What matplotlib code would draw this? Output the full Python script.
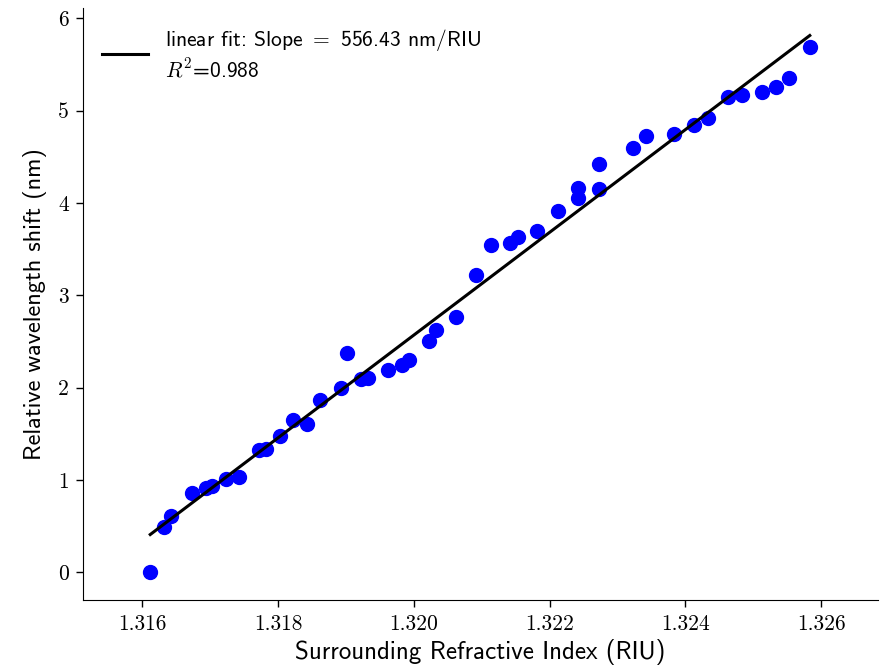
import numpy as np
import matplotlib
matplotlib.use('Agg')
import matplotlib.pyplot as plt
from matplotlib.ticker import FixedLocator, FormatStrFormatter

# Datos medidos: índice de refracción del medio y corrimiento de la longitud de onda
indice = [1.31612, 1.31632, 1.31643, 1.31673, 1.31694, 1.31703, 1.31723, 1.31742,
          1.31772, 1.31782, 1.31803, 1.31822, 1.31843, 1.31862, 1.31893, 1.31902,
          1.31923, 1.31933, 1.31962, 1.31982, 1.31993, 1.32022, 1.32033, 1.32062,
          1.32092, 1.32113, 1.32142, 1.32153, 1.32182, 1.32212, 1.32242, 1.32242,
          1.32273, 1.32273, 1.32323, 1.32342, 1.32383, 1.32413, 1.32433, 1.32463,
          1.32483, 1.32513, 1.32533, 1.32552, 1.32583]
corrimiento = [0.00, 0.49, 0.61, 0.86, 0.91, 0.94, 1.01, 1.03,
               1.32, 1.34, 1.48, 1.65, 1.61, 1.87, 2.00, 2.37,
               2.09, 2.11, 2.19, 2.24, 2.30, 2.50, 2.62, 2.77,
               3.22, 3.54, 3.57, 3.63, 3.70, 3.91, 4.05, 4.16,
               4.15, 4.42, 4.59, 4.73, 4.75, 4.84, 4.92, 5.15,
               5.17, 5.20, 5.25, 5.35, 5.69]

# Ajuste lineal
pendiente = 556.43
r2 = 0.988
y_inicio = 0.41  # valor del ajuste en el primer índice

x_ticks = [1.316, 1.318, 1.320, 1.322, 1.324, 1.326]
y_ticks = [0, 1, 2, 3, 4, 5, 6]

plt.rcParams['font.family'] = 'cmss10'
plt.rcParams['mathtext.fontset'] = 'cm'
plt.rcParams['axes.formatter.use_mathtext'] = True

fig = plt.figure(figsize=(8.83, 6.72), dpi=100)
ax = fig.add_axes([0.094, 0.107, 0.9, 0.881])

x = np.array(indice)
y = np.array(corrimiento)
x_fit = np.array([x.min(), x.max()])
y_fit = y_inicio + pendiente * (x_fit - x.min())

ax.scatter(x, y, s=100, color='blue', zorder=2)
ax.plot(x_fit, y_fit, color='black', lw=2.2, zorder=3,
        label='linear fit: Slope $=$ 556.43 nm/RIU\n$R^2$=' + f'{r2:.3f}')

ax.set_xlim(1.31513, 1.32683)
ax.set_ylim(-0.30, 6.11)
ax.xaxis.set_major_locator(FixedLocator(x_ticks))
ax.yaxis.set_major_locator(FixedLocator(y_ticks))
ax.xaxis.set_major_formatter(FormatStrFormatter('%.3f'))
ax.yaxis.set_major_formatter(FormatStrFormatter('%d'))
ax.tick_params(length=5, width=1, pad=5)
for lbl in ax.get_xticklabels() + ax.get_yticklabels():
    lbl.set_fontfamily('cmr10')
    lbl.set_fontsize(15.5)

ax.spines['top'].set_visible(False)
ax.spines['right'].set_visible(False)
ax.set_xlabel('Surrounding Refractive Index (RIU)', fontsize=18, labelpad=4)
ax.set_ylabel('Relative wavelength shift (nm)', fontsize=17.5, labelpad=8)

ax.legend(loc='upper left', frameon=False, fontsize=15.5, handlelength=2.1)

fig.savefig('out.png', dpi=100)
